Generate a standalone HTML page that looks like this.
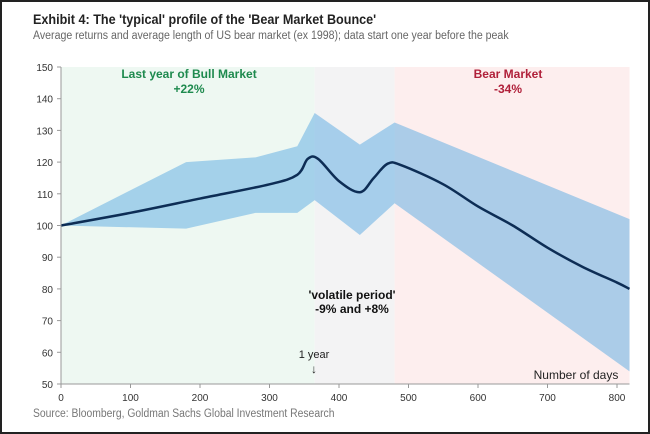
<!DOCTYPE html>
<html><head><meta charset="utf-8"><style>
body{margin:0;width:650px;height:434px;background:#fff;font-family:"Liberation Sans",sans-serif;overflow:hidden}
#frame{position:absolute;left:0;top:0;width:646px;height:430px;border:2px solid #222;background:#fff}
.t{position:absolute;white-space:nowrap}
</style></head><body>
<div id="frame"></div>
<div class="t" style="left:33px;top:11px;font-size:14px;font-weight:bold;color:#222;transform:scaleX(0.9);transform-origin:left">Exhibit 4: The 'typical' profile of the 'Bear Market Bounce'</div>
<div class="t" style="left:33px;top:30px;font-size:11.5px;color:#666;transform:scaleX(0.92);transform-origin:left">Average returns and average length of US bear market (ex 1998); data start one year before the peak</div>
<svg id="c" width="650" height="434" style="position:absolute;left:0;top:0"></svg>
<div class="t" style="left:33px;top:408px;font-size:11.5px;color:#777;transform:scaleX(0.9);transform-origin:left">Source: Bloomberg, Goldman Sachs Global Investment Research</div>
<script>
const meanX=[0,100,200,300,340,355,370,400,430,450,470,490,550,600,650,700,750,800,818];
const meanY=[100,104,108.5,113,116,121,121,114,110.5,115,119.5,119,113,106,100,93,87,82,80];
const bandX=[0,180,280,340,365,430,480,818];
const upperY=[100,120,121.5,125,135.5,125.5,132.5,102];
const lowerY=[100,99,104,104,108,97,107,54];
const xTicks=[0,100,200,300,400,500,600,700,800];
const yTicks=[50,60,70,80,90,100,110,120,130,140,150];
const regions=[[0,365,'#eef8f2'],[365,480,'#f3f3f4'],[480,818,'#fdeeee']];
const X=d=>61+d*0.695, Y=v=>384-(v-50)*3.17;
const svg=document.getElementById('c'),NS='http://www.w3.org/2000/svg';
function mk(t,a,p){const e=document.createElementNS(NS,t);for(const k in a)e.setAttribute(k,a[k]);(p||svg).appendChild(e);return e;}
regions.forEach(r=>{const e=mk('rect',{x:X(r[0]),y:Y(150),width:X(r[1])-X(r[0]),height:Y(50)-Y(150),fill:r[2]});

});
let pts=bandX.map((d,i)=>X(d)+','+Y(upperY[i])).concat(bandX.map((d,i)=>X(d)+','+Y(lowerY[i])).reverse());
const band=mk('polygon',{points:pts.join(' '),fill:'rgba(90,170,225,0.5)'});


const P=meanX.map((d,i)=>[X(d),Y(meanY[i])]);
let dstr='M'+P[0][0]+','+P[0][1];
for(let i=0;i<P.length-1;i++){const p0=P[Math.max(0,i-1)],p1=P[i],p2=P[i+1],p3=P[Math.min(P.length-1,i+2)];
const c1=[p1[0]+(p2[0]-p0[0])/6,p1[1]+(p2[1]-p0[1])/6],c2=[p2[0]-(p3[0]-p1[0])/6,p2[1]-(p3[1]-p1[1])/6];
dstr+=' C'+c1+' '+c2+' '+p2;}
const line=mk('path',{d:dstr,fill:'none',stroke:'#0d2d55','stroke-width':2.5,'stroke-linejoin':'round'});


mk('line',{x1:X(0),y1:Y(150),x2:X(0),y2:Y(50),stroke:'#999'});
mk('line',{x1:X(0),y1:Y(50),x2:X(818),y2:Y(50),stroke:'#999'});
yTicks.forEach(v=>{mk('line',{x1:X(0)-4,y1:Y(v),x2:X(0),y2:Y(v),stroke:'#999'});
const t=mk('text',{x:X(0)-8,y:Y(v)+4,'text-anchor':'end','font-size':10,fill:'#333'});t.textContent=v;

});
xTicks.forEach(v=>{mk('line',{x1:X(v),y1:Y(50),x2:X(v),y2:Y(50)+4,stroke:'#999'});
const t=mk('text',{x:X(v),y:Y(50)+17,'text-anchor':'middle','font-size':10,fill:'#333'});t.textContent=v;

});
function txt(s,x,y,o,name){const t=mk('text',Object.assign({x:x,y:y,'text-anchor':'middle','font-size':12},o));t.textContent=s;

}
txt('Last year of Bull Market',189,78,{fill:'#1e8a4e','font-weight':'bold'},'bull-label');
txt('+22%',189,93,{fill:'#1e8a4e','font-weight':'bold'},'bull-return');
txt('Bear Market',508,78,{fill:'#b0203a','font-weight':'bold'},'bear-label');
txt('-34%',508,93,{fill:'#b0203a','font-weight':'bold'},'bear-return');
txt("'volatile period'",352,299,{fill:'#111','font-weight':'bold'},'volatile-label');
txt('-9% and +8%',352,313,{fill:'#111','font-weight':'bold'},'volatile-returns');
txt('1 year',314,358,{fill:'#222','font-size':11},'one-year-label');
txt('↓',314,373,{fill:'#222','font-size':12},'one-year-arrow');
txt('Number of days',576,379,{fill:'#222','font-size':12},'x-axis-title');
</script>
</body></html>
